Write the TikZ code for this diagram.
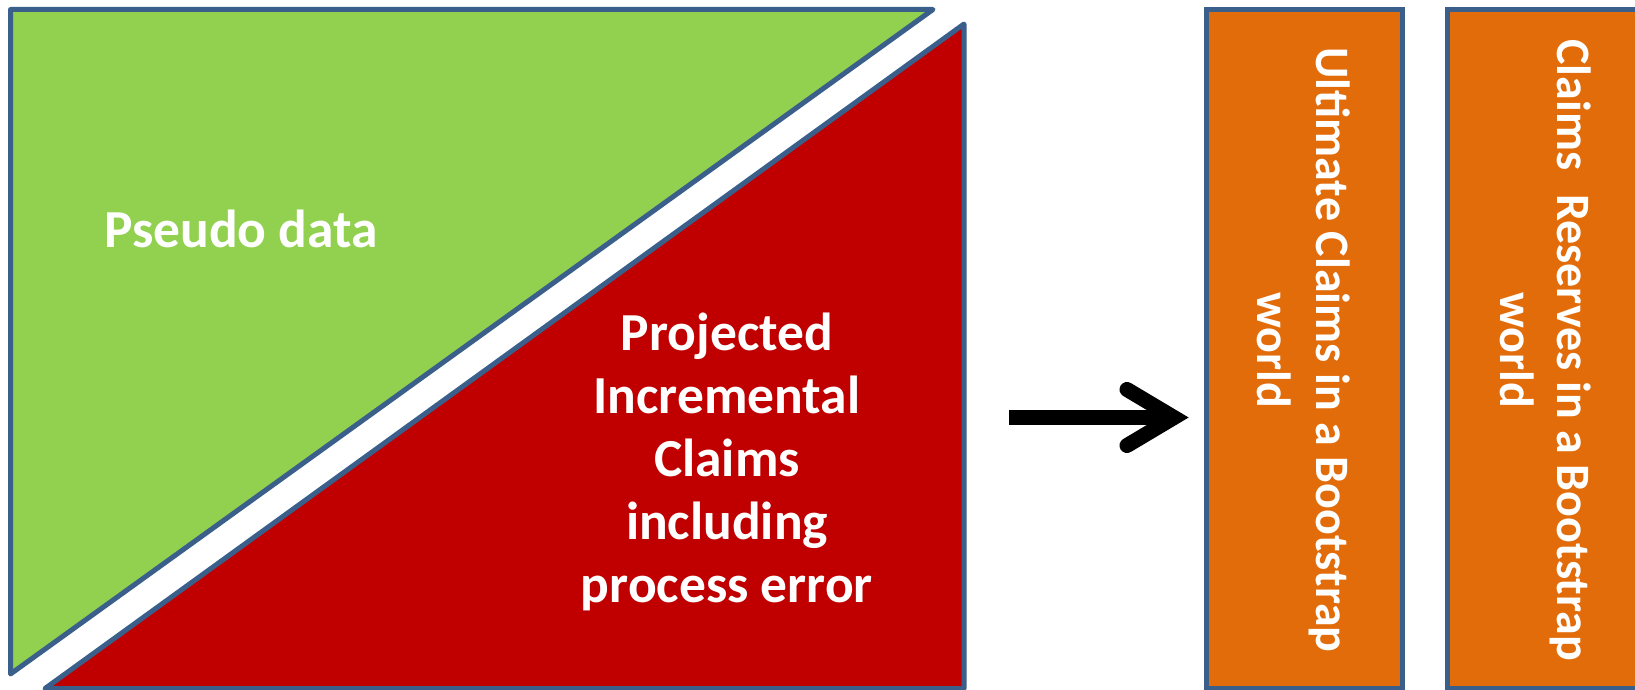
\documentclass[tikz,border=0pt]{standalone}
\usepackage{fontspec}
\setmainfont{Carlito}
\definecolor{bordblue}{HTML}{3A5F8B}
\definecolor{pgreen}{HTML}{92D050}
\definecolor{pred}{HTML}{C00000}
\definecolor{porange}{HTML}{E36C0A}
\tikzset{
  shapeline/.style={draw=bordblue, line width=5pt, line join=round},
  lbl/.style={text=white, font=\bfseries\fontsize{53.5}{63}\selectfont, inner sep=0pt, anchor=base},
  vlbl/.style={text=white, font=\bfseries\fontsize{48}{58}\selectfont, inner sep=0pt, anchor=base, rotate=-90},
}
\begin{document}
\begin{tikzpicture}[x=1pt,y=-1pt]
\useasboundingbox (0,0) rectangle (1635,690);
% green triangle
\path[shapeline, fill=pgreen] (10.5,9.5) -- (933,9.5) -- (10.5,674) -- cycle;
% red triangle
\path[shapeline, fill=pred] (964,24) -- (964,688.5) -- (45,688.5) -- cycle;
% orange boxes
\path[shapeline, line join=miter, fill=porange] (1206,9.5) rectangle (1402.5,688.5);
\path[shapeline, line join=miter, fill=porange] (1447.5,9.5) rectangle (1650,688.5);
% texts
\node[lbl] (pseudo) at (241,247) {Pseudo data};
\node[lbl, align=center] (proj) at (727,602) {Projected\\Incremental\\Claims\\including\\process error};
\node[vlbl] (ult1) at (1316,350) {Ultimate Claims in a Bootstrap};
\node[vlbl] (ult2) at (1257,350) {world};
\node[vlbl] (res1) at (1557,350) {Claims\hspace{24pt}Reserves in a Bootstrap};
\node[vlbl] (res2) at (1500,350) {world};
% arrow
\coordinate (astart) at (1009,417.5);
\coordinate (atip) at (1174,417.5);
\draw[line width=15pt] (astart) -- ([xshift=-14pt]atip);
\draw[line width=15pt, line cap=round, line join=miter] ([xshift=-47pt,yshift=-28pt]atip) -- (atip) -- ([xshift=-47pt,yshift=28pt]atip);
\end{tikzpicture}
\end{document}
